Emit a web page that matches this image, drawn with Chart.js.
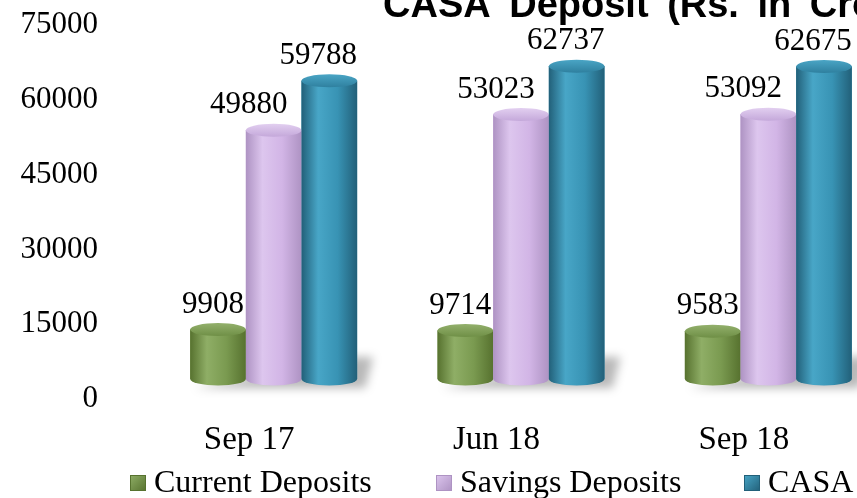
<!DOCTYPE html>
<html lang="en">
<head>
<meta charset="UTF-8">
<title>CASA Deposit</title>
<script src="https://cdn.jsdelivr.net/npm/chart.js"></script>
<style>
  html, body { margin: 0; padding: 0; background: #fff; overflow: hidden; }
  canvas { display: block; }
</style>
</head>
<body>
<canvas id="casaChart" width="900" height="498"></canvas>
<script>
// chart data
const quarters = ['Sep 17', 'Jun 18', 'Sep 18'];
const currentDeposits = [9908, 9714, 9583];
const savingsDeposits = [49880, 53023, 53092];
const casaTotal = [59788, 62737, 62675];
const seriesNames = ['Current Deposits', 'Savings Deposits', 'CASA'];
const yTicks = [0, 15000, 30000, 45000, 60000, 75000];
const chartTitle = 'CASA Deposit (Rs. in Crore)';

// cylinder shading for each series
const shades = [
  { base: '#7a9a50', dark: '#57722f', light: '#8fae66', capTop: '#93b06c', capBottom: '#6f8f46', labelShift: -5 },
  { base: '#d2b5e6', dark: '#ae93c3', light: '#ddc6ee', capTop: '#e2cff0', capBottom: '#c4a8da', labelShift: -25 },
  { base: '#3893b4', dark: '#226079', light: '#48a6c7', capTop: '#4aa5c5', capBottom: '#2f809f', labelShift: -11 }
];
const legendX = [130, 436, 744];
const serif = '"Liberation Serif", "Times New Roman", serif';

function drawCylinder(ctx, bar, shade) {
  const { x, y, base, width } = bar.getProps(['x', 'y', 'base', 'width'], true);
  const rx = width / 2, ry = 6.5, left = x - rx;
  const body = ctx.createLinearGradient(left, 0, left + width, 0);
  body.addColorStop(0, shade.dark);
  body.addColorStop(0.3, shade.light);
  body.addColorStop(0.65, shade.base);
  body.addColorStop(1, shade.dark);
  ctx.fillStyle = body;
  ctx.beginPath();
  ctx.moveTo(left, y);
  ctx.lineTo(left, base);
  ctx.ellipse(x, base, rx, ry, 0, Math.PI, 0, true);
  ctx.lineTo(left + width, y);
  ctx.closePath();
  ctx.fill();

  const cap = ctx.createLinearGradient(0, y - ry, 0, y + ry);
  cap.addColorStop(0, shade.capTop);
  cap.addColorStop(1, shade.capBottom);
  ctx.fillStyle = cap;
  ctx.beginPath();
  ctx.ellipse(x, y, rx, ry, 0, 0, Math.PI * 2);
  ctx.fill();
}

const cylinderPlugin = {
  id: 'cylinders',
  beforeDatasetsDraw(chart) {
    const ctx = chart.ctx;
    const metas = chart.data.datasets.map((d, i) => chart.getDatasetMeta(i));
    ctx.save();
    ctx.filter = 'blur(5px)';
    ctx.fillStyle = 'rgba(0,0,0,0.28)';
    quarters.forEach((q, i) => {
      const first = metas[0].data[i], last = metas[metas.length - 1].data[i];
      const l = first.x - first.width / 2, r = last.x + last.width / 2;
      ctx.beginPath();
      ctx.moveTo(l + 4, first.base + 9);
      ctx.lineTo(r + 8, first.base + 9);
      ctx.lineTo(r + 16, first.base - 22);
      ctx.lineTo(r - 6, first.base - 22);
      ctx.closePath();
      ctx.fill();
    });
    ctx.restore();
  },
  afterDatasetsDraw(chart) {
    const ctx = chart.ctx;
    ctx.save();
    chart.data.datasets.forEach((ds, di) => {
      chart.getDatasetMeta(di).data.forEach(bar => drawCylinder(ctx, bar, shades[di]));
    });
    ctx.fillStyle = '#000';
    ctx.font = '31px ' + serif;
    ctx.textAlign = 'center';
    ctx.textBaseline = 'middle';
    chart.data.datasets.forEach((ds, di) => {
      chart.getDatasetMeta(di).data.forEach((bar, i) => {
        ctx.fillText(String(ds.data[i]), bar.x + shades[di].labelShift, bar.y - 25);
      });
    });
    ctx.restore();
  },
  afterDraw(chart) {
    const ctx = chart.ctx;
    ctx.save();
    // title, clipped at the top like the original
    ctx.fillStyle = '#000';
    ctx.font = 'bold 38px "Liberation Sans", Arial, sans-serif';
    ctx.wordSpacing = '8px';
    ctx.textAlign = 'left';
    ctx.textBaseline = 'alphabetic';
    ctx.fillText(chartTitle, 383, 17);
    ctx.wordSpacing = '0px';
    // legend
    ctx.font = '32px ' + serif;
    seriesNames.forEach((name, i) => {
      const bx = legendX[i], by = 475, s = 16;
      const g = ctx.createLinearGradient(bx, by, bx + s, by + s);
      g.addColorStop(0, shades[i].light);
      g.addColorStop(1, shades[i].dark);
      ctx.fillStyle = g;
      ctx.fillRect(bx, by, s, s);
      ctx.strokeStyle = shades[i].dark;
      ctx.lineWidth = 1;
      ctx.strokeRect(bx + 0.5, by + 0.5, s - 1, s - 1);
      ctx.fillStyle = '#000';
      ctx.fillText(name, bx + 24, 492);
    });
    ctx.restore();
  }
};

const ctx = document.getElementById('casaChart').getContext('2d');
new Chart(ctx, {
  type: 'bar',
  data: {
    labels: quarters,
    datasets: [
      { label: seriesNames[0], data: currentDeposits, backgroundColor: shades[0].base },
      { label: seriesNames[1], data: savingsDeposits, backgroundColor: shades[1].base },
      { label: seriesNames[2], data: casaTotal, backgroundColor: shades[2].base }
    ]
  },
  options: {
    responsive: false,
    devicePixelRatio: 1,
    animation: false,
    layout: { padding: { top: 5, right: 8, bottom: 0, left: 0 } },
    datasets: { bar: { categoryPercentage: 0.675, barPercentage: 1, borderWidth: 0 } },
    plugins: {
      legend: { display: false },
      title: { display: false },
      tooltip: { enabled: false }
    },
    scales: {
      x: {
        grid: { display: false, drawTicks: false, tickLength: 0 },
        border: { display: false },
        ticks: { color: '#000', font: { family: serif, size: 33 }, padding: 42, labelOffset: -24.5, maxRotation: 0 },
        afterFit: s => { s.height = 119; s.paddingLeft = 0; s.paddingRight = 0; }
      },
      y: {
        min: 0,
        max: 75000,
        grid: { display: false, drawTicks: false, tickLength: 0 },
        border: { display: false },
        ticks: { color: '#000', font: { family: serif, size: 31 }, padding: 52, labelOffset: 20, callback: v => String(v) },
        afterBuildTicks: s => { s.ticks = yTicks.map(v => ({ value: v })); },
        afterFit: s => { s.width = 150; s.paddingTop = 0; s.paddingBottom = 0; }
      }
    }
  },
  plugins: [cylinderPlugin]
});
</script>
</body>
</html>
